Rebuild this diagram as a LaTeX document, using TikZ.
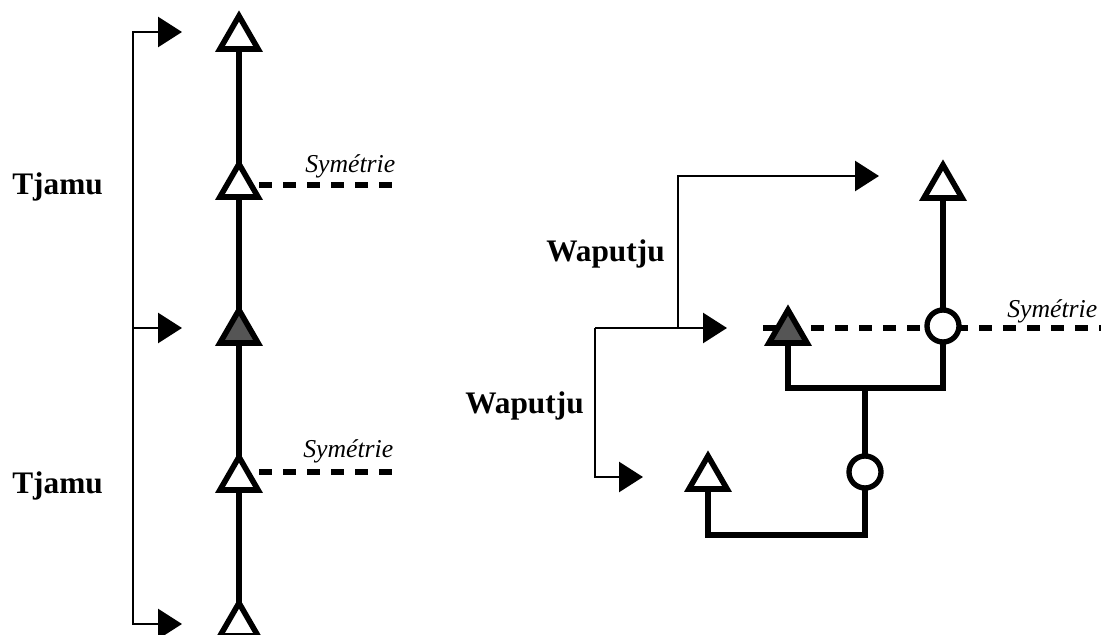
\documentclass[tikz,border=0pt]{standalone}
\usepackage{fontspec}
\setmainfont{Liberation Serif}
\usetikzlibrary{arrows.meta,shapes.geometric}
\definecolor{darkfill}{RGB}{85,85,85}
\begin{document}
\begin{tikzpicture}[x=0.75pt,y=-0.75pt,
  tri/.style={draw,regular polygon,regular polygon sides=3,minimum size=33pt,
    inner sep=0pt,outer sep=0pt,line width=4.2pt,fill=white,line join=miter},
  trifull/.style={tri,fill=darkfill},
  circ/.style={draw,circle,minimum size=24pt,inner sep=0pt,outer sep=0pt,
    line width=4pt,fill=white},
  kin/.style={line width=4pt},
  sym/.style={line width=5pt,dash pattern=on 9.75pt off 8.25pt},
  conn/.style={line width=2pt,-{Triangle[length=18pt,width=22.5pt]}},
  lab/.style={anchor=base west,inner sep=0pt,font=\fontsize{23.5}{26}\selectfont\bfseries},
  symlab/.style={anchor=base west,inner sep=0pt,font=\fontsize{19.3}{22}\selectfont\itshape}]
\useasboundingbox (0,0) rectangle (1101,635);
% right dashed line (under the nodes)
\coordinate (dsL) at (763,328);
\coordinate (dsR) at (1101,328);
\draw[sym] (dsL) -- (dsR);
% left column
\node[tri] (T1) at (239,38) {};
\node[tri] (T2) at (239,186) {};
\node[trifull] (T3) at (239,332) {};
\node[tri] (T4) at (239,479) {};
\node[tri] (T5) at (239,625) {};
\draw[kin] (T2.north) -- (T1.south);
\draw[kin] (T3.north) -- (T2.south);
\draw[kin] (T4.north) -- (T3.south);
\draw[kin] (T5.north) -- (T4.south);
\coordinate (S1s) at (259,185);
\coordinate (S1) at (393,185);
\coordinate (S2s) at (259,472);
\coordinate (S2) at (393,472);
\draw[sym] (S1s) -- (S1);
\draw[sym] (S2s) -- (S2);
\node[symlab] (sy1) at (305,173) {Symétrie};
\node[symlab] (sy2) at (303,457) {Symétrie};
% left bracket
\coordinate (L1) at (182,32);
\coordinate (L2) at (182,328);
\coordinate (L3) at (182,624);
\coordinate (B2) at (133,328);
\coordinate (B3) at (133,624);
\draw[line width=2pt,{Triangle[length=18pt,width=22.5pt]}-{Triangle[length=18pt,width=22.5pt]}] (L1) -| (B3) -- (L3);
\draw[conn] (B2) -- (L2);
\node[lab] (tj1) at (12,195) {Tjamu};
\node[lab] (tj2) at (12,493) {Tjamu};
% right part
\node[tri] (T6) at (943,187) {};
\node[trifull] (T7) at (788,332) {};
\node[tri] (T8) at (708,478) {};
\node[circ] (C1) at (943,326) {};
\node[circ] (C2) at (865,472) {};
\coordinate (J1) at (865,388);
\coordinate (J2) at (865,535);
\draw[kin] (T6.south) -- (C1.north);
\draw[kin,line join=miter] (T7.south) |- (J1) -| (C1.south);
\draw[kin] (J1) -- (C2.north);
\draw[kin,line join=miter] (C2.south) -- (J2) -| (T8.south);
\node[symlab] (sy3) at (1007,317) {Symétrie};
% Waputju connectors
\coordinate (A1) at (879,176);
\coordinate (A2) at (727,328);
\coordinate (A3) at (643,477);
\coordinate (K1) at (678,328);
\coordinate (K2) at (595,328);
\draw[conn] (K1) |- (A1);
\draw[conn] (K2) -- (A2);
\draw[conn] (K2) |- (A3);
\node[lab] (wp1) at (546,262) {Waputju};
\node[lab] (wp2) at (465,413) {Waputju};
\end{tikzpicture}
\end{document}
